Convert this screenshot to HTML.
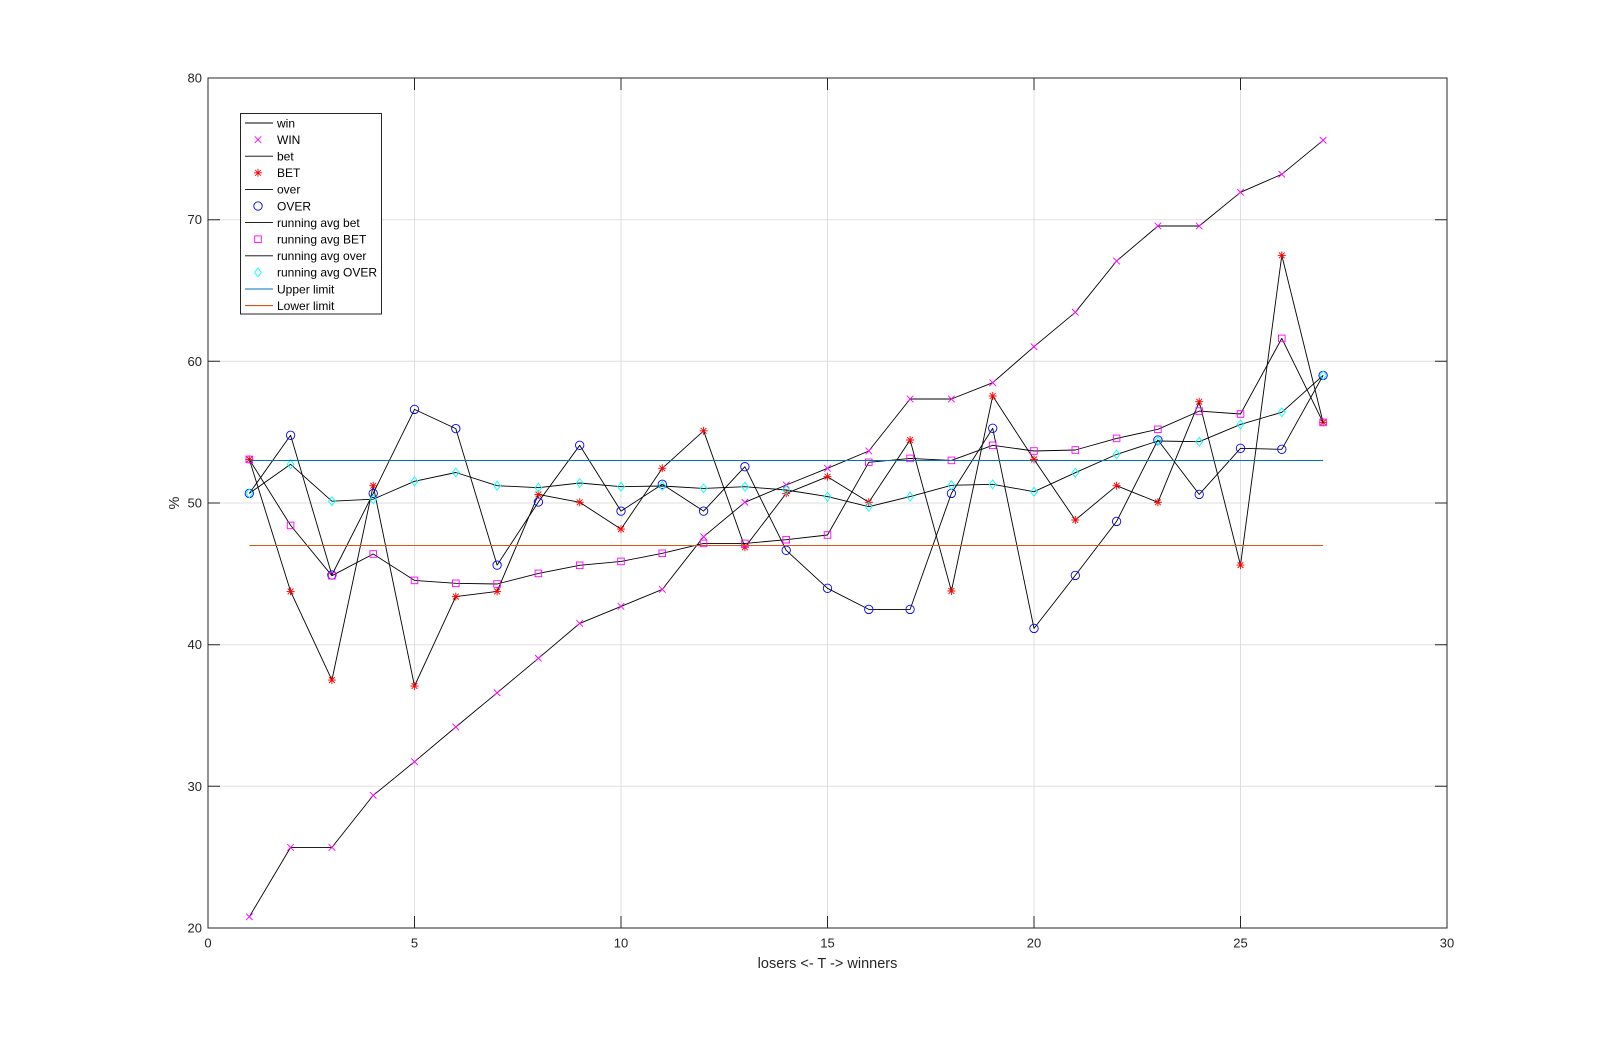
<!DOCTYPE html>
<html><head><meta charset="utf-8"><style>
html,body{margin:0;padding:0;background:#fff;}
svg{display:block;font-family:"Liberation Sans",Arial,sans-serif;}
</style></head><body>
<svg width="1599" height="1043" viewBox="0 0 1599 1043" xmlns="http://www.w3.org/2000/svg">
<defs>
<path id="mx" d="M-3.3,-3.3L3.3,3.3M-3.3,3.3L3.3,-3.3" stroke="#ff00ff" stroke-width="0.9" fill="none"/>
<path id="ms" d="M-4,0H4M0,-4V4M-2.9,-2.9L2.9,2.9M-2.9,2.9L2.9,-2.9" stroke="#ff0000" stroke-width="0.9" fill="none"/>
<circle id="mo" r="4.2" stroke="#0000ff" stroke-width="0.9" fill="none"/>
<rect id="mq" x="-3.3" y="-3.3" width="6.6" height="6.6" stroke="#ff00ff" stroke-width="0.9" fill="none"/>
<polygon id="md" points="0,-4.4 3.4,0 0,4.4 -3.4,0" stroke="#00ffff" stroke-width="0.9" fill="none"/>
</defs>
<rect x="0" y="0" width="1599" height="1043" fill="#fff"/>
<rect x="208" y="78" width="1239" height="850" fill="#fff"/>
<!-- grid -->
<g stroke="#dfdfdf" stroke-width="1">
<path d="M414.5,78V928M621,78V928M827.5,78V928M1034,78V928M1240.5,78V928"/>
<path d="M208,786.3H1447M208,644.7H1447M208,503H1447M208,361.3H1447M208,219.7H1447"/>
</g>
<!-- series -->
<g fill="none" stroke="#000" stroke-width="0.9" stroke-linejoin="round">
<polyline points="249.3,916.8 290.6,847.4 331.9,847.4 373.2,795.4 414.5,761.7 455.8,727.0 497.1,692.8 538.4,658.3 579.7,623.4 621.0,606.4 662.3,589.4 703.6,536.7 744.9,502.3 786.2,485.0 827.5,468.3 868.8,451.0 910.1,399.0 951.4,399.0 992.7,382.7 1034.0,346.7 1075.3,312.3 1116.6,261.0 1157.9,226.0 1199.2,226.0 1240.5,192.3 1281.8,174.3 1323.1,140.3"/>
</g>
<g>
<use href="#mx" x="249.3" y="916.8"/><use href="#mx" x="290.6" y="847.4"/><use href="#mx" x="331.9" y="847.4"/><use href="#mx" x="373.2" y="795.4"/><use href="#mx" x="414.5" y="761.7"/><use href="#mx" x="455.8" y="727.0"/><use href="#mx" x="497.1" y="692.8"/><use href="#mx" x="538.4" y="658.3"/><use href="#mx" x="579.7" y="623.4"/><use href="#mx" x="621.0" y="606.4"/><use href="#mx" x="662.3" y="589.4"/><use href="#mx" x="703.6" y="536.7"/><use href="#mx" x="744.9" y="502.3"/><use href="#mx" x="786.2" y="485.0"/><use href="#mx" x="827.5" y="468.3"/><use href="#mx" x="868.8" y="451.0"/><use href="#mx" x="910.1" y="399.0"/><use href="#mx" x="951.4" y="399.0"/><use href="#mx" x="992.7" y="382.7"/><use href="#mx" x="1034.0" y="346.7"/><use href="#mx" x="1075.3" y="312.3"/><use href="#mx" x="1116.6" y="261.0"/><use href="#mx" x="1157.9" y="226.0"/><use href="#mx" x="1199.2" y="226.0"/><use href="#mx" x="1240.5" y="192.3"/><use href="#mx" x="1281.8" y="174.3"/><use href="#mx" x="1323.1" y="140.3"/>
</g>
<g fill="none" stroke="#000" stroke-width="0.9" stroke-linejoin="round">
<polyline points="249.3,459.4 290.6,591.4 331.9,680.1 373.2,485.7 414.5,686.0 455.8,596.6 497.1,591.4 538.4,494.4 579.7,502.3 621.0,529.1 662.3,468.3 703.6,430.8 744.9,547.3 786.2,493.4 827.5,476.7 868.8,502.3 910.1,440.0 951.4,591.0 992.7,396.0 1034.0,459.4 1075.3,520.0 1116.6,485.7 1157.9,502.3 1199.2,401.7 1240.5,565.1 1281.8,255.4 1323.1,422.4"/>
</g>
<g>
<use href="#ms" x="249.3" y="459.4"/><use href="#ms" x="290.6" y="591.4"/><use href="#ms" x="331.9" y="680.1"/><use href="#ms" x="373.2" y="485.7"/><use href="#ms" x="414.5" y="686.0"/><use href="#ms" x="455.8" y="596.6"/><use href="#ms" x="497.1" y="591.4"/><use href="#ms" x="538.4" y="494.4"/><use href="#ms" x="579.7" y="502.3"/><use href="#ms" x="621.0" y="529.1"/><use href="#ms" x="662.3" y="468.3"/><use href="#ms" x="703.6" y="430.8"/><use href="#ms" x="744.9" y="547.3"/><use href="#ms" x="786.2" y="493.4"/><use href="#ms" x="827.5" y="476.7"/><use href="#ms" x="868.8" y="502.3"/><use href="#ms" x="910.1" y="440.0"/><use href="#ms" x="951.4" y="591.0"/><use href="#ms" x="992.7" y="396.0"/><use href="#ms" x="1034.0" y="459.4"/><use href="#ms" x="1075.3" y="520.0"/><use href="#ms" x="1116.6" y="485.7"/><use href="#ms" x="1157.9" y="502.3"/><use href="#ms" x="1199.2" y="401.7"/><use href="#ms" x="1240.5" y="565.1"/><use href="#ms" x="1281.8" y="255.4"/><use href="#ms" x="1323.1" y="422.4"/>
</g>
<g fill="none" stroke="#000" stroke-width="0.9" stroke-linejoin="round">
<polyline points="249.3,493.4 290.6,435.3 331.9,575.0 373.2,493.4 414.5,409.4 455.8,428.6 497.1,565.1 538.4,502.0 579.7,445.3 621.0,511.1 662.3,484.3 703.6,511.1 744.9,466.7 786.2,550.3 827.5,588.3 868.8,609.4 910.1,609.4 951.4,493.4 992.7,428.3 1034.0,628.4 1075.3,575.4 1116.6,521.4 1157.9,440.0 1199.2,494.4 1240.5,448.3 1281.8,449.3 1323.1,375.4"/>
</g>
<g>
<use href="#mo" x="249.3" y="493.4"/><use href="#mo" x="290.6" y="435.3"/><use href="#mo" x="331.9" y="575.0"/><use href="#mo" x="373.2" y="493.4"/><use href="#mo" x="414.5" y="409.4"/><use href="#mo" x="455.8" y="428.6"/><use href="#mo" x="497.1" y="565.1"/><use href="#mo" x="538.4" y="502.0"/><use href="#mo" x="579.7" y="445.3"/><use href="#mo" x="621.0" y="511.1"/><use href="#mo" x="662.3" y="484.3"/><use href="#mo" x="703.6" y="511.1"/><use href="#mo" x="744.9" y="466.7"/><use href="#mo" x="786.2" y="550.3"/><use href="#mo" x="827.5" y="588.3"/><use href="#mo" x="868.8" y="609.4"/><use href="#mo" x="910.1" y="609.4"/><use href="#mo" x="951.4" y="493.4"/><use href="#mo" x="992.7" y="428.3"/><use href="#mo" x="1034.0" y="628.4"/><use href="#mo" x="1075.3" y="575.4"/><use href="#mo" x="1116.6" y="521.4"/><use href="#mo" x="1157.9" y="440.0"/><use href="#mo" x="1199.2" y="494.4"/><use href="#mo" x="1240.5" y="448.3"/><use href="#mo" x="1281.8" y="449.3"/><use href="#mo" x="1323.1" y="375.4"/>
</g>
<g fill="none" stroke="#000" stroke-width="0.9" stroke-linejoin="round">
<polyline points="249.3,459.4 290.6,525.4 331.9,575.7 373.2,554.0 414.5,580.4 455.8,583.3 497.1,584.0 538.4,573.4 579.7,565.3 621.0,561.4 662.3,553.3 703.6,543.4 744.9,543.4 786.2,539.7 827.5,535.0 868.8,462.3 910.1,458.4 951.4,460.4 992.7,445.3 1034.0,451.0 1075.3,450.0 1116.6,438.4 1157.9,429.3 1199.2,411.1 1240.5,414.0 1281.8,338.4 1323.1,422.4"/>
</g>
<g>
<use href="#mq" x="249.3" y="459.4"/><use href="#mq" x="290.6" y="525.4"/><use href="#mq" x="331.9" y="575.7"/><use href="#mq" x="373.2" y="554.0"/><use href="#mq" x="414.5" y="580.4"/><use href="#mq" x="455.8" y="583.3"/><use href="#mq" x="497.1" y="584.0"/><use href="#mq" x="538.4" y="573.4"/><use href="#mq" x="579.7" y="565.3"/><use href="#mq" x="621.0" y="561.4"/><use href="#mq" x="662.3" y="553.3"/><use href="#mq" x="703.6" y="543.4"/><use href="#mq" x="744.9" y="543.4"/><use href="#mq" x="786.2" y="539.7"/><use href="#mq" x="827.5" y="535.0"/><use href="#mq" x="868.8" y="462.3"/><use href="#mq" x="910.1" y="458.4"/><use href="#mq" x="951.4" y="460.4"/><use href="#mq" x="992.7" y="445.3"/><use href="#mq" x="1034.0" y="451.0"/><use href="#mq" x="1075.3" y="450.0"/><use href="#mq" x="1116.6" y="438.4"/><use href="#mq" x="1157.9" y="429.3"/><use href="#mq" x="1199.2" y="411.1"/><use href="#mq" x="1240.5" y="414.0"/><use href="#mq" x="1281.8" y="338.4"/><use href="#mq" x="1323.1" y="422.4"/>
</g>
<g fill="none" stroke="#000" stroke-width="0.9" stroke-linejoin="round">
<polyline points="249.3,493.4 290.6,464.3 331.9,501.2 373.2,499.2 414.5,481.3 455.8,472.5 497.1,485.7 538.4,487.7 579.7,483.0 621.0,486.7 662.3,486.0 703.6,488.4 744.9,486.7 786.2,490.0 827.5,496.6 868.8,506.7 910.1,496.6 951.4,485.3 992.7,484.3 1034.0,491.7 1075.3,472.7 1116.6,454.4 1157.9,441.0 1199.2,441.7 1240.5,424.4 1281.8,412.3 1323.1,375.4"/>
</g>
<g>
<use href="#md" x="249.3" y="493.4"/><use href="#md" x="290.6" y="464.3"/><use href="#md" x="331.9" y="501.2"/><use href="#md" x="373.2" y="499.2"/><use href="#md" x="414.5" y="481.3"/><use href="#md" x="455.8" y="472.5"/><use href="#md" x="497.1" y="485.7"/><use href="#md" x="538.4" y="487.7"/><use href="#md" x="579.7" y="483.0"/><use href="#md" x="621.0" y="486.7"/><use href="#md" x="662.3" y="486.0"/><use href="#md" x="703.6" y="488.4"/><use href="#md" x="744.9" y="486.7"/><use href="#md" x="786.2" y="490.0"/><use href="#md" x="827.5" y="496.6"/><use href="#md" x="868.8" y="506.7"/><use href="#md" x="910.1" y="496.6"/><use href="#md" x="951.4" y="485.3"/><use href="#md" x="992.7" y="484.3"/><use href="#md" x="1034.0" y="491.7"/><use href="#md" x="1075.3" y="472.7"/><use href="#md" x="1116.6" y="454.4"/><use href="#md" x="1157.9" y="441.0"/><use href="#md" x="1199.2" y="441.7"/><use href="#md" x="1240.5" y="424.4"/><use href="#md" x="1281.8" y="412.3"/><use href="#md" x="1323.1" y="375.4"/>
</g>
<!-- limits -->
<line x1="249.3" y1="460.5" x2="1323.1" y2="460.5" stroke="#0072bd" stroke-width="1.1"/>
<line x1="249.3" y1="545.5" x2="1323.1" y2="545.5" stroke="#d95319" stroke-width="1.1"/>
<!-- axes box and ticks -->
<g stroke="#262626" stroke-width="1" fill="none">
<rect x="208" y="78" width="1239" height="850"/>
<path d="M414.5,928V916M621,928V916M827.5,928V916M1034,928V916M1240.5,928V916"/>
<path d="M414.5,78V90M621,78V90M827.5,78V90M1034,78V90M1240.5,78V90"/>
<path d="M208,786.3H220M208,644.7H220M208,503H220M208,361.3H220M208,219.7H220"/>
<path d="M1447,786.3H1435M1447,644.7H1435M1447,503H1435M1447,361.3H1435M1447,219.7H1435"/>
</g>
<!-- tick labels -->
<g fill="#262626" font-size="13" text-anchor="end">
<text x="202" y="932.5">20</text>
<text x="202" y="790.8">30</text>
<text x="202" y="649.2">40</text>
<text x="202" y="507.5">50</text>
<text x="202" y="365.8">60</text>
<text x="202" y="224.2">70</text>
<text x="202" y="82.5">80</text>
</g>
<g fill="#262626" font-size="13" text-anchor="middle">
<text x="208" y="947.5">0</text>
<text x="414.5" y="947.5">5</text>
<text x="621" y="947.5">10</text>
<text x="827.5" y="947.5">15</text>
<text x="1034" y="947.5">20</text>
<text x="1240.5" y="947.5">25</text>
<text x="1447" y="947.5">30</text>
</g>
<text x="827.5" y="968" fill="#262626" font-size="14.5" text-anchor="middle">losers &lt;- T -&gt; winners</text>
<text transform="translate(179,503) rotate(-90)" fill="#262626" font-size="14.5" text-anchor="middle">%</text>
<!-- legend -->
<rect x="240.5" y="113.5" width="141" height="200.5" fill="#fff" stroke="#262626" stroke-width="1"/>
<g stroke="#000" stroke-width="0.9">
<line x1="245" y1="123" x2="273" y2="123"/>
<line x1="245" y1="156.2" x2="273" y2="156.2"/>
<line x1="245" y1="189.4" x2="273" y2="189.4"/>
<line x1="245" y1="222.6" x2="273" y2="222.6"/>
<line x1="245" y1="255.8" x2="273" y2="255.8"/>
</g>
<line x1="245" y1="289" x2="273" y2="289" stroke="#0072bd" stroke-width="1.1"/>
<line x1="245" y1="305.6" x2="273" y2="305.6" stroke="#d95319" stroke-width="1.1"/>
<use href="#mx" x="258" y="139.6"/>
<use href="#ms" x="258" y="172.8"/>
<use href="#mo" x="258" y="206"/>
<use href="#mq" x="258" y="239.2"/>
<use href="#md" x="258" y="272.4"/>
<g fill="#000" font-size="12">
<text x="277" y="127.3">win</text>
<text x="277" y="143.9">WIN</text>
<text x="277" y="160.5">bet</text>
<text x="277" y="177.1">BET</text>
<text x="277" y="193.7">over</text>
<text x="277" y="210.3">OVER</text>
<text x="277" y="226.9">running avg bet</text>
<text x="277" y="243.5">running avg BET</text>
<text x="277" y="260.1">running avg over</text>
<text x="277" y="276.7">running avg OVER</text>
<text x="277" y="293.3">Upper limit</text>
<text x="277" y="309.9">Lower limit</text>
</g>
</svg>
</body></html>
